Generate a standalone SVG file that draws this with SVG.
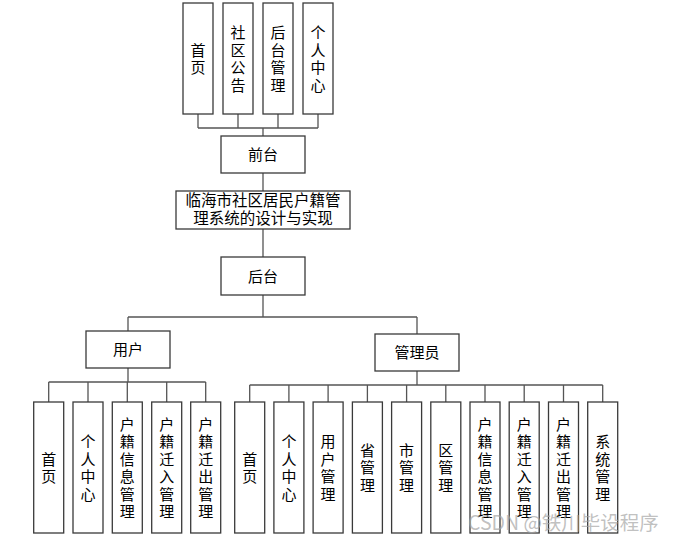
<svg xmlns="http://www.w3.org/2000/svg" width="675" height="541" viewBox="0 0 675 541">
<style>
.box{fill:#fff;stroke:#3a3a3a;stroke-width:1.3}
.ln{fill:none;stroke:#555;stroke-width:1.3}
.t{font-family:"Noto Sans CJK SC","Liberation Sans",sans-serif;font-size:15px;fill:#000;text-anchor:middle}
.tm{font-size:15.5px}
.wm{font-family:"Noto Sans CJK SC","Liberation Sans",sans-serif;font-size:19.5px;fill:#a5a5a5;fill-opacity:0.7}
</style>
<rect width="675" height="541" fill="#fff"/>
<g id="connectors">
<path class="ln" d="M198,114V128M238,114V128M278,114V128M318,114V128M198,128H318M263,128V136"/>
<path class="ln" d="M263,173V191M263,229V257M263,295V317M128,317H417M128,317V331M417,317V334"/>
<path class="ln" d="M128,368V382M48.7,382H205.7M48.7,382V402M88,382V402M127.3,382V402M166.7,382V402M205.7,382V402"/>
<path class="ln" d="M417,371V385M249.7,385H602.7M249.7,385V402M288.9,385V402M328.1,385V402M367.4,385V402M406.6,385V402M445.8,385V402M485,385V402M524.2,385V402M563.5,385V402M602.7,385V402"/>
</g>
<g id="n-shouye-top"><rect class="box" x="183" y="3" width="30" height="111"/><text class="t"><tspan x="198" y="55.5">首</tspan><tspan x="198" y="73">页</tspan></text></g>
<g id="n-gonggao"><rect class="box" x="223" y="3" width="30" height="111"/><text class="t"><tspan x="238" y="38">社</tspan><tspan x="238" y="55.5">区</tspan><tspan x="238" y="73">公</tspan><tspan x="238" y="90.5">告</tspan></text></g>
<g id="n-houtaiguanli"><rect class="box" x="263" y="3" width="30" height="111"/><text class="t"><tspan x="278" y="38">后</tspan><tspan x="278" y="55.5">台</tspan><tspan x="278" y="73">管</tspan><tspan x="278" y="90.5">理</tspan></text></g>
<g id="n-geren-top"><rect class="box" x="303" y="3" width="30" height="111"/><text class="t"><tspan x="318" y="38">个</tspan><tspan x="318" y="55.5">人</tspan><tspan x="318" y="73">中</tspan><tspan x="318" y="90.5">心</tspan></text></g>
<g id="n-qiantai"><rect class="box" x="221" y="136" width="84" height="37"/><text class="t" x="263" y="160.2">前台</text></g>
<g id="n-main"><rect class="box" x="176" y="191" width="174" height="38"/><text class="t tm"><tspan x="263" y="205.9">临海市社区居民户籍管</tspan><tspan x="263" y="224.4">理系统的设计与实现</tspan></text></g>
<g id="n-houtai"><rect class="box" x="221" y="257" width="84" height="38"/><text class="t" x="263" y="281.7">后台</text></g>
<g id="n-yonghu"><rect class="box" x="86" y="331" width="84" height="37"/><text class="t" x="128" y="355.2">用户</text></g>
<g id="n-guanliyuan"><rect class="box" x="375" y="334" width="84" height="37"/><text class="t" x="417" y="358.2">管理员</text></g>
<g id="u-shouye"><rect class="box" x="33.7" y="402" width="30" height="131"/><text class="t"><tspan x="48.7" y="464.5">首</tspan><tspan x="48.7" y="482">页</tspan></text></g>
<g id="u-geren"><rect class="box" x="73" y="402" width="30" height="131"/><text class="t"><tspan x="88" y="447">个</tspan><tspan x="88" y="464.5">人</tspan><tspan x="88" y="482">中</tspan><tspan x="88" y="499.5">心</tspan></text></g>
<g id="u-xinxi"><rect class="box" x="112.3" y="402" width="30" height="131"/><text class="t"><tspan x="127.3" y="429.5">户</tspan><tspan x="127.3" y="447">籍</tspan><tspan x="127.3" y="464.5">信</tspan><tspan x="127.3" y="482">息</tspan><tspan x="127.3" y="499.5">管</tspan><tspan x="127.3" y="517">理</tspan></text></g>
<g id="u-qianru"><rect class="box" x="151.7" y="402" width="30" height="131"/><text class="t"><tspan x="166.7" y="429.5">户</tspan><tspan x="166.7" y="447">籍</tspan><tspan x="166.7" y="464.5">迁</tspan><tspan x="166.7" y="482">入</tspan><tspan x="166.7" y="499.5">管</tspan><tspan x="166.7" y="517">理</tspan></text></g>
<g id="u-qianchu"><rect class="box" x="190.7" y="402" width="30" height="131"/><text class="t"><tspan x="205.7" y="429.5">户</tspan><tspan x="205.7" y="447">籍</tspan><tspan x="205.7" y="464.5">迁</tspan><tspan x="205.7" y="482">出</tspan><tspan x="205.7" y="499.5">管</tspan><tspan x="205.7" y="517">理</tspan></text></g>
<g id="a-shouye"><rect class="box" x="234.7" y="402" width="30" height="131"/><text class="t"><tspan x="249.7" y="464.5">首</tspan><tspan x="249.7" y="482">页</tspan></text></g>
<g id="a-geren"><rect class="box" x="273.9" y="402" width="30" height="131"/><text class="t"><tspan x="288.9" y="447">个</tspan><tspan x="288.9" y="464.5">人</tspan><tspan x="288.9" y="482">中</tspan><tspan x="288.9" y="499.5">心</tspan></text></g>
<g id="a-yonghu"><rect class="box" x="313.1" y="402" width="30" height="131"/><text class="t"><tspan x="328.1" y="447">用</tspan><tspan x="328.1" y="464.5">户</tspan><tspan x="328.1" y="482">管</tspan><tspan x="328.1" y="499.5">理</tspan></text></g>
<g id="a-sheng"><rect class="box" x="352.4" y="402" width="30" height="131"/><text class="t"><tspan x="367.4" y="455.7">省</tspan><tspan x="367.4" y="473.2">管</tspan><tspan x="367.4" y="490.7">理</tspan></text></g>
<g id="a-shi"><rect class="box" x="391.6" y="402" width="30" height="131"/><text class="t"><tspan x="406.6" y="455.7">市</tspan><tspan x="406.6" y="473.2">管</tspan><tspan x="406.6" y="490.7">理</tspan></text></g>
<g id="a-qu"><rect class="box" x="430.8" y="402" width="30" height="131"/><text class="t"><tspan x="445.8" y="455.7">区</tspan><tspan x="445.8" y="473.2">管</tspan><tspan x="445.8" y="490.7">理</tspan></text></g>
<g id="a-xinxi"><rect class="box" x="470" y="402" width="30" height="131"/><text class="t"><tspan x="485" y="429.5">户</tspan><tspan x="485" y="447">籍</tspan><tspan x="485" y="464.5">信</tspan><tspan x="485" y="482">息</tspan><tspan x="485" y="499.5">管</tspan><tspan x="485" y="517">理</tspan></text></g>
<g id="a-qianru"><rect class="box" x="509.2" y="402" width="30" height="131"/><text class="t"><tspan x="524.2" y="429.5">户</tspan><tspan x="524.2" y="447">籍</tspan><tspan x="524.2" y="464.5">迁</tspan><tspan x="524.2" y="482">入</tspan><tspan x="524.2" y="499.5">管</tspan><tspan x="524.2" y="517">理</tspan></text></g>
<g id="a-qianchu"><rect class="box" x="548.5" y="402" width="30" height="131"/><text class="t"><tspan x="563.5" y="429.5">户</tspan><tspan x="563.5" y="447">籍</tspan><tspan x="563.5" y="464.5">迁</tspan><tspan x="563.5" y="482">出</tspan><tspan x="563.5" y="499.5">管</tspan><tspan x="563.5" y="517">理</tspan></text></g>
<g id="a-xitong"><rect class="box" x="587.7" y="402" width="30" height="131"/><text class="t"><tspan x="602.7" y="447">系</tspan><tspan x="602.7" y="464.5">统</tspan><tspan x="602.7" y="482">管</tspan><tspan x="602.7" y="499.5">理</tspan></text></g>
<text class="wm" x="468" y="530">CSDN @铁川毕设程序</text>
</svg>
